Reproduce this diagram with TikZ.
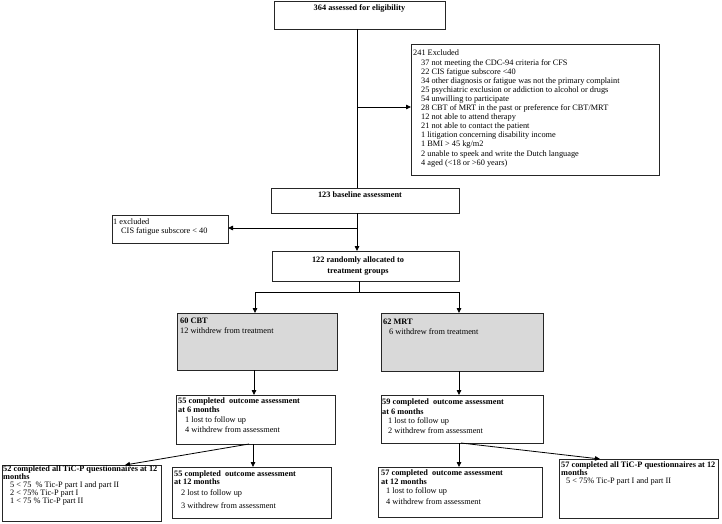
\documentclass[tikz,border=0pt]{standalone}
\usepackage{fontspec}
\setmainfont{Liberation Serif}
\usetikzlibrary{arrows.meta}
\begin{document}
\begin{tikzpicture}[x=1pt,y=-1pt,
  box/.style={draw=black!85,line width=0.9pt,rectangle,inner sep=0pt,outer sep=0pt,anchor=north west},
  gbox/.style={box,fill=black!15},
  txt/.style={inner sep=0pt,anchor=north west,align=left,font=\fontsize{8.3}{9.1}\selectfont},
  ctxt/.style={inner sep=0pt,anchor=north,align=center,font=\bfseries\fontsize{8.3}{10.5}\selectfont},
  arr/.style={-{Triangle[length=5pt,width=4.5pt]},line width=0.8pt},
  ln/.style={line width=0.8pt}]
\useasboundingbox (0,0) rectangle (722,524);

% boxes
\node[box,minimum width=171pt,minimum height=28pt] (top) at (274,1) {};
\node[box,minimum width=248pt,minimum height=131pt] (excl) at (411,44) {};
\node[box,minimum width=188pt,minimum height=25pt] (base) at (271,188) {};
\node[box,minimum width=116pt,minimum height=28pt] (ex1) at (112,215) {};
\node[box,minimum width=187pt,minimum height=30pt] (rand) at (272,251) {};
\node[gbox,minimum width=160pt,minimum height=57pt] (cbt) at (177,313) {};
\node[gbox,minimum width=162pt,minimum height=58pt] (mrt) at (381,313) {};
\node[box,minimum width=159pt,minimum height=49pt] (m6a) at (176,395) {};
\node[box,minimum width=162pt,minimum height=48pt] (m6b) at (381,395) {};
\node[box,minimum width=159pt,minimum height=51pt] (m12a) at (172,467) {};
\node[box,minimum width=164pt,minimum height=50pt] (m12b) at (378,467) {};
\node[box,minimum width=159pt,minimum height=56pt] (tica) at (2,465) {};
\node[box,minimum width=159pt,minimum height=59pt] (ticb) at (559,459) {};

% texts
\node[ctxt] (ttop) at (359.5,4) {364 assessed for eligibility};
\node[txt] (texcl) at (413,50) {241 Excluded\\
\hspace*{8pt}37 not meeting the CDC-94 criteria for CFS\\
\hspace*{8pt}22 CIS fatigue subscore <40\\
\hspace*{8pt}34 other diagnosis or fatigue was not the primary complaint\\
\hspace*{8pt}25 psychiatric exclusion or addiction to alcohol or drugs\\
\hspace*{8pt}54 unwilling to participate\\
\hspace*{8pt}28 CBT of MRT in the past or preference for CBT/MRT\\
\hspace*{8pt}12 not able to attend therapy\\
\hspace*{8pt}21 not able to contact the patient\\
\hspace*{8pt}1 litigation concerning disability income\\
\hspace*{8pt}1 BMI > 45 kg/m2\\
\hspace*{8pt}2 unable to speek and write the Dutch language\\
\hspace*{8pt}4 aged (<18 or >60 years)};
\node[ctxt] (tbase) at (360,192) {123 baseline assessment};
\node[txt] (tex1) at (113,218.7) {1 excluded\\\hspace*{8pt}CIS fatigue subscore < 40};
\node[ctxt] (trand) at (358,256.7) {122 randomly allocated to\\treatment groups};
\node[txt,font=\fontsize{8.3}{10}\selectfont] (tcbt) at (180,317.7) {\textbf{60 CBT}\\12 withdrew from treatment};
\node[txt,font=\fontsize{8.3}{10}\selectfont] (tmrt) at (383,318.7) {\textbf{62 MRT}\\\hspace*{6pt}6 withdrew from treatment};
\node[txt,font=\fontsize{8.3}{8.5}\selectfont] (tm6a) at (178,397.7) {\textbf{55 completed\ \ outcome assessment}\\
\textbf{at 6 months}\\[1.5pt]
\hspace*{7pt}1 lost to follow up\\[2pt]
\hspace*{7pt}4 withdrew from assessment};
\node[txt,font=\fontsize{8.3}{9.6}\selectfont] (tm6b) at (382,398.7) {\textbf{59 completed\ \ outcome assessment}\\
\textbf{at 6 months}\\
\hspace*{6pt}1 lost to follow up\\
\hspace*{6pt}2 withdrew from assessment};
\node[txt,font=\fontsize{8.3}{8.5}\selectfont] (tm12a) at (174,470.2) {\textbf{55 completed\ \ outcome assessment}\\
\textbf{at 12 months}\\[2pt]
\hspace*{7pt}2 lost to follow up\\[4.5pt]
\hspace*{7pt}3 withdrew from assessment};
\node[txt,font=\fontsize{8.3}{9}\selectfont] (tm12b) at (381,469.2) {\textbf{57 completed\ \ outcome assessment}\\
\textbf{at 12 months}\\[0.5pt]
\hspace*{5pt}1 lost to follow up\\[2pt]
\hspace*{5pt}4 withdrew from assessment};
\node[txt,font=\fontsize{8.3}{7.8}\selectfont] (ttica) at (3,466) {\textbf{52 completed all TiC-P questionnaires at 12}\\
\textbf{months}\\
\hspace*{7pt}5 < 75\ \ \% Tic-P part I and part II\\
\hspace*{7pt}2 < 75\% Tic-P part I\\
\hspace*{7pt}1 < 75 \% Tic-P part II};
\node[txt,font=\fontsize{8.3}{8}\selectfont] (tticb) at (561,462) {\textbf{57 completed all TiC-P questionnaires at 12}\\
\textbf{months}\\
\hspace*{5pt}5 < 75\% Tic-P part I and part II};

% connectors
\coordinate (j1) at (357,107);
\draw[ln] (top.south -| j1) -- (base.north -| j1);
\draw[arr] (j1) -- (excl.west |- j1);
\coordinate (j2) at (357,228);
\draw[arr] (base.south -| j2) -- (rand.north -| j2);
\draw[arr] (j2) -- (ex1.east |- j2);
\coordinate (j3) at (359,292);
\coordinate (jl) at (255,292);
\coordinate (jr) at (459,292);
\draw[ln] (rand.south -| j3) -- (j3);
\draw[ln] (jl) -- (jr);
\draw[arr] (jl) -- (cbt.north -| jl);
\draw[arr] (jr) -- (mrt.north -| jr);
\coordinate (c1) at (254,0);
\coordinate (c2) at (459,0);
\coordinate (c3) at (253,0);
\draw[arr] (cbt.south -| c1) -- (m6a.north -| c1);
\draw[arr] (mrt.south -| c2) -- (m6b.north -| c2);
\draw[arr] (m6a.south -| c3) -- (m12a.north -| c3);
\draw[arr] (m6b.south -| c2) -- (m12b.north -| c2);
\coordinate (d1) at (249,0);
\coordinate (d1t) at (125,0);
\coordinate (d2) at (461,0);
\coordinate (d2t) at (600,0);
\draw[arr] (m6a.south -| d1) -- (tica.north -| d1t);
\draw[arr] (m6b.south -| d2) -- (ticb.north -| d2t);
\end{tikzpicture}
\end{document}
